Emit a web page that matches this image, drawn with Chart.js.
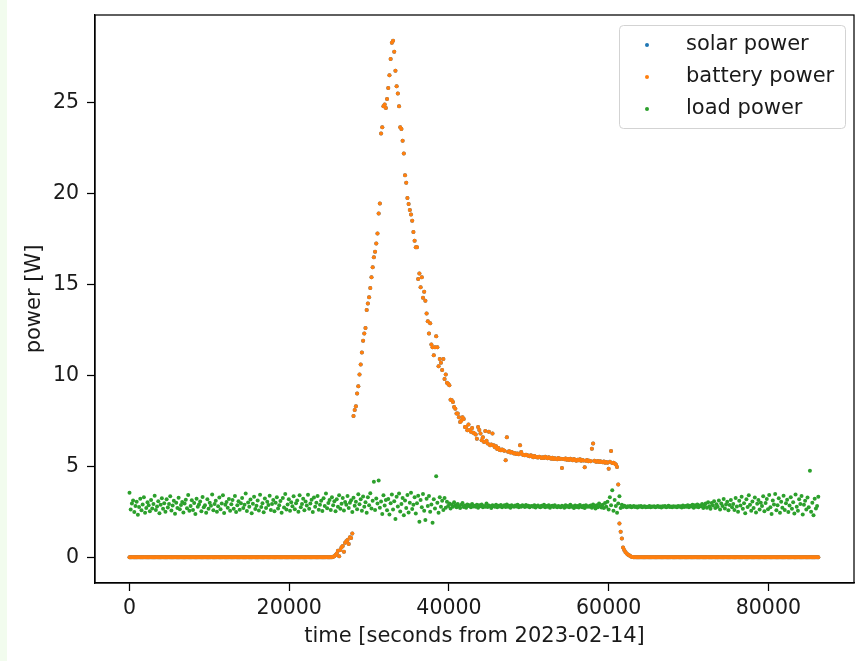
<!DOCTYPE html>
<html>
<head>
<meta charset="utf-8">
<script src="https://cdn.jsdelivr.net/npm/chart.js@4/dist/chart.umd.min.js"></script>
<style>
  html, body { margin: 0; padding: 0; }
  body {
    width: 856px; height: 661px; overflow: hidden;
    background: linear-gradient(to right, #f2fcee 0, #f2fcee 7px, #ffffff 7px);
  }
</style>
</head>
<body>
<canvas id="chart" width="856" height="661"></canvas>
<script>
// samples every 150 s, one row per hour
const timeStep = 150;

const batteryPower = [
  0,0,0,0,0,0,0,0,0,0,0,0,0,0,0,0,0,0,0,0,0,0,0,0,
  0,0,0,0,0,0,0,0,0,0,0,0,0,0,0,0,0,0,0,0,0,0,0,0,
  0,0,0,0,0,0,0,0,0,0,0,0,0,0,0,0,0,0,0,0,0,0,0,0,
  0,0,0,0,0,0,0,0,0,0,0,0,0,0,0,0,0,0,0,0,0,0,0,0,
  0,0,0,0,0,0,0,0,0,0,0,0,0,0,0,0,0,0,0,0,0,0,0,0,
  0,0,0,0,0,0,0,0,0,0,0,0,0,0,0,0,0,0,0,0,0,0,0,0,
  0,0,0,0,0,0,0,0,0,0,0,0,0,0,0,0,0,0,0,0,0,0,0,0,
  0,0,0.02,0.05,0.12,0.2,0.35,0.05,0.4,0.55,0.62,0.3,0.8,0.88,0.95,0.72,1.1,1.05,1.3,7.76,8.1,8.3,9.0,9.4,
  10.05,10.6,11.26,11.9,12.3,12.6,13.6,13.95,14.3,14.8,15.4,15.95,16.5,16.8,17.25,17.8,18.9,19.45,23.3,23.65,24.8,24.9,24.7,25.2,
  25.8,26.5,27.4,28.3,28.4,27.8,26.75,25.9,25.5,24.8,23.65,23.55,22.9,22.2,21.0,20.6,19.76,19.43,19.1,18.85,18.5,17.88,17.4,17.05,
  17.05,15.3,15.6,14.85,15.4,14.27,14.6,14.1,13.4,12.97,12.3,12.86,11.7,11.55,11.1,11.55,12.15,11.55,10.5,10.9,10.7,10.3,10.9,9.8,
  10.05,9.6,9.54,9.45,8.66,8.63,8.53,8.26,8.17,7.9,7.9,7.7,7.43,7.5,7.7,7.6,7.16,7.16,6.98,7.3,7.0,6.9,7.1,6.85,
  6.8,6.75,6.52,7.16,7.0,6.8,6.43,6.6,6.34,6.94,6.4,6.25,6.9,6.15,6.2,6.8,6.15,6.05,6.1,5.95,6.0,5.9,5.88,5.92,
  5.88,5.85,5.33,6.6,5.8,5.82,5.76,5.79,5.75,5.7,5.72,5.68,5.7,5.66,6.15,5.79,5.65,5.62,5.6,5.63,5.6,5.58,5.55,5.6,
  5.55,5.5,5.57,5.52,5.5,5.48,5.53,5.5,5.46,5.5,5.45,5.52,5.48,5.44,5.5,5.45,5.42,5.47,5.4,5.44,5.42,5.38,5.45,5.4,
  5.42,4.9,5.4,5.38,5.43,5.36,5.4,5.35,5.42,5.37,5.33,5.4,5.35,5.3,5.36,5.33,5.38,5.3,5.34,5.32,4.95,5.3,5.35,5.28,
  5.3,5.27,5.97,6.25,5.3,5.26,5.25,5.29,5.24,5.27,5.24,5.22,5.26,5.2,5.23,5.2,4.87,5.25,5.84,5.18,5.2,5.15,5.1,4.96,
  4.0,1.85,1.4,1.03,0.53,0.4,0.29,0.2,0.15,0.11,0.06,0.03,0.01,0,0,0,0,0,0,0,0,0,0,0,
  0,0,0,0,0,0,0,0,0,0,0,0,0,0,0,0,0,0,0,0,0,0,0,0,
  0,0,0,0,0,0,0,0,0,0,0,0,0,0,0,0,0,0,0,0,0,0,0,0,
  0,0,0,0,0,0,0,0,0,0,0,0,0,0,0,0,0,0,0,0,0,0,0,0,
  0,0,0,0,0,0,0,0,0,0,0,0,0,0,0,0,0,0,0,0,0,0,0,0,
  0,0,0,0,0,0,0,0,0,0,0,0,0,0,0,0,0,0,0,0,0,0,0,0,
  0,0,0,0,0,0,0,0,0,0,0,0,0,0,0,0,0,0,0,0,0,0,0,0
];

// solar sits exactly under the battery points, so none of it shows
const solarPower = batteryPower;

const loadPower = [
  3.55,2.62,2.95,3.12,2.48,2.81,3.05,2.34,2.76,3.21,2.58,2.9,3.3,2.45,2.7,3.02,2.86,2.52,3.15,2.68,2.93,3.38,2.6,2.79,
  3.08,2.41,2.88,3.24,2.66,2.97,2.5,3.18,2.73,2.92,3.35,2.57,2.84,3.1,2.39,2.99,2.71,3.27,2.63,2.87,3.04,2.46,2.95,3.16,
  2.69,3.42,2.55,2.82,3.13,2.6,2.98,2.37,3.22,2.77,2.9,3.06,2.53,3.31,2.74,2.86,2.44,3.19,2.67,3.0,2.83,3.45,2.58,2.92,
  3.1,2.5,2.8,3.28,2.64,2.95,3.4,2.43,2.88,3.03,2.72,3.2,2.56,2.91,3.14,2.66,3.36,2.49,2.85,3.07,2.61,2.97,3.25,2.7,
  2.89,3.5,2.54,3.01,2.78,3.17,2.42,2.94,3.33,2.65,2.83,3.12,2.57,3.44,2.76,2.96,2.47,3.23,2.7,3.05,2.87,3.38,2.6,2.93,
  3.15,2.52,2.99,3.3,2.68,2.86,3.09,2.45,3.26,2.73,3.47,2.62,2.9,3.18,2.55,3.02,2.8,3.35,2.64,2.97,3.12,2.5,3.4,2.75,
  2.92,3.22,2.58,3.06,2.84,3.43,2.66,2.95,3.16,2.49,3.28,2.77,3.0,3.37,2.61,2.89,3.11,2.54,3.24,2.82,3.5,2.69,2.98,3.14,
  2.6,3.3,2.85,3.07,2.52,3.19,2.78,3.41,2.67,2.94,3.25,2.57,3.03,2.88,3.36,2.71,2.99,3.13,2.48,3.27,2.83,3.05,2.63,3.46,
  2.91,3.18,2.55,3.34,2.77,3.02,2.44,3.29,2.86,3.52,2.68,3.1,4.15,2.6,3.23,2.95,4.22,2.72,3.06,2.38,3.4,2.84,3.15,2.58,
  3.2,2.35,2.97,3.45,2.62,3.08,2.1,3.33,2.79,3.5,2.51,2.93,3.26,2.3,3.12,2.7,3.42,2.46,3.0,3.55,2.65,2.88,3.3,2.4,
  2.96,3.38,1.95,3.14,2.75,3.47,2.56,2.05,3.22,2.82,3.36,2.5,2.9,1.9,3.18,2.68,4.45,2.99,2.45,3.3,2.78,3.1,2.6,3.25,
  2.72,3.05,2.82,2.95,2.68,2.9,2.78,3.02,2.85,2.74,2.93,2.8,2.7,2.88,2.98,2.76,2.84,2.72,2.9,2.81,2.86,2.75,2.92,2.79,
  2.83,2.77,2.88,2.72,2.85,2.8,2.9,2.74,2.82,2.78,2.95,2.76,2.84,2.8,2.7,2.86,2.81,2.78,2.89,2.75,2.83,2.79,2.87,2.74,
  2.8,2.85,2.76,2.9,2.78,2.83,2.72,2.86,2.8,2.77,2.84,2.79,2.88,2.74,2.82,2.78,2.85,2.81,2.76,2.87,2.79,2.83,2.75,2.8,
  2.82,2.77,2.86,2.73,2.8,2.84,2.78,2.75,2.83,2.79,2.88,2.74,2.81,2.77,2.85,2.72,2.8,2.83,2.76,2.86,2.79,2.74,2.82,2.78,
  2.75,2.83,2.79,2.72,2.86,2.78,2.81,2.74,2.88,2.77,2.8,2.7,2.84,2.76,2.82,2.73,2.87,2.79,2.75,2.83,2.71,2.86,2.78,2.8,
  2.77,2.84,2.72,2.9,2.79,2.68,2.86,2.75,2.95,2.8,2.73,2.88,2.7,2.98,2.78,3.05,2.62,3.3,2.85,3.68,2.55,3.15,2.82,2.45,
  2.95,3.35,2.7,2.88,2.76,2.83,2.79,2.74,2.8,2.77,2.82,2.75,2.78,2.81,2.76,2.79,2.73,2.8,2.77,2.82,2.75,2.78,2.8,2.74,
  2.78,2.76,2.81,2.74,2.79,2.77,2.8,2.75,2.78,2.82,2.76,2.79,2.73,2.8,2.77,2.81,2.75,2.78,2.83,2.76,2.79,2.74,2.8,2.77,
  2.79,2.75,2.82,2.77,2.8,2.73,2.84,2.76,2.81,2.78,2.86,2.74,2.83,2.79,2.88,2.72,2.85,2.78,2.9,2.75,2.84,2.8,2.92,2.7,
  2.86,2.95,2.72,3.02,2.8,2.66,2.98,2.84,3.08,2.7,2.91,2.78,3.12,2.62,2.95,2.82,3.2,2.68,2.9,3.05,2.58,2.87,3.15,2.74,
  2.93,2.6,3.25,2.79,2.5,3.1,2.84,3.33,2.66,2.97,2.42,3.18,2.76,3.4,2.88,2.55,3.06,2.7,3.28,2.46,2.94,3.15,2.62,3.0,
  2.81,3.35,2.52,2.98,3.2,2.64,3.42,2.75,2.38,3.12,2.9,3.48,2.58,2.86,3.24,2.45,3.05,2.72,3.38,2.6,2.96,3.16,2.48,2.84,
  3.3,2.67,3.02,2.4,3.45,2.78,2.55,3.18,2.92,3.36,2.35,2.88,3.1,2.62,3.28,2.74,4.75,2.5,3.0,2.3,3.22,2.68,2.82,3.32
];

const seriesLabels = ['solar power', 'battery power', 'load power'];
const seriesColors = ['#1f77b4', '#ff7f0e', '#2ca02c'];

const xTicks = [0, 20000, 40000, 60000, 80000];
const yTicks = [0, 5, 10, 15, 20, 25];

const textColor = '#1a1a1a';
const fontFamily = "'DejaVu Sans', sans-serif";

function toPoints(values) {
  return values.map((v, i) => ({ x: i * timeStep, y: v }));
}

// box round the plot, like matplotlib's spines
const frame = {
  id: 'frame',
  afterDatasetsDraw(chart) {
    const { ctx, chartArea: a } = chart;
    ctx.save();
    ctx.strokeStyle = '#000';
    ctx.lineWidth = 1.25;
    ctx.strokeRect(a.left, a.top, a.right - a.left, a.bottom - a.top);
    ctx.restore();
  }
};

// legend box in the upper right corner
const cornerLegend = {
  id: 'cornerLegend',
  afterDraw(chart) {
    const { ctx, chartArea: a } = chart;
    const w = 226, h = 103;
    const x0 = a.right - 9 - w, y0 = a.top + 10;
    ctx.save();
    ctx.beginPath();
    ctx.roundRect(x0 + 0.5, y0 + 0.5, w, h, 4);
    ctx.fillStyle = 'rgba(255,255,255,0.8)';
    ctx.fill();
    ctx.strokeStyle = '#d3d3d3';
    ctx.lineWidth = 1;
    ctx.stroke();
    ctx.font = '21px ' + fontFamily;
    ctx.textBaseline = 'middle';
    seriesLabels.forEach((label, i) => {
      const cy = y0 + 20 + i * 32;
      ctx.beginPath();
      ctx.arc(x0 + 28, cy, 2, 0, Math.PI * 2);
      ctx.fillStyle = seriesColors[i];
      ctx.fill();
      ctx.fillStyle = textColor;
      ctx.fillText(label, x0 + 67, cy);
    });
    ctx.restore();
  }
};

const axisCommon = {
  type: 'linear',
  grid: { drawOnChartArea: false, drawTicks: true, tickLength: 8, tickColor: '#000', tickWidth: 1.25 },
  border: { display: true, color: '#000', width: 1.25 },
  ticks: {
    color: textColor,
    font: { family: fontFamily, size: 20.5 },
    autoSkip: false,
    maxRotation: 0,
    callback: (v) => String(v)
  }
};

new Chart(document.getElementById('chart'), {
  type: 'scatter',
  data: {
    datasets: [
      { label: seriesLabels[0], data: toPoints(solarPower), backgroundColor: seriesColors[0], order: 3 },
      { label: seriesLabels[1], data: toPoints(batteryPower), backgroundColor: seriesColors[1], order: 2 },
      { label: seriesLabels[2], data: toPoints(loadPower), backgroundColor: seriesColors[2], order: 1 }
    ]
  },
  options: {
    responsive: false,
    animation: false,
    devicePixelRatio: 1,
    events: [],
    layout: { padding: { left: 0, top: 15, right: 2, bottom: 0 } },
    elements: { point: { radius: 2, borderWidth: 0, hoverRadius: 2 } },
    plugins: { legend: { display: false }, tooltip: { enabled: false } },
    scales: {
      x: {
        ...axisCommon,
        position: 'bottom',
        min: -4320,
        max: 90720,
        ticks: { ...axisCommon.ticks, padding: 5 },
        afterBuildTicks: (s) => { s.ticks = xTicks.map(v => ({ value: v })); },
        afterFit: (s) => { s.height = 78; s.paddingLeft = 0; s.paddingRight = 0; },
        title: {
          display: true,
          text: 'time [seconds from 2023-02-14]',
          color: textColor,
          font: { family: fontFamily, size: 21 },
          padding: { top: 0, bottom: 12 }
        }
      },
      y: {
        ...axisCommon,
        position: 'left',
        min: -1.42,
        max: 29.82,
        ticks: { ...axisCommon.ticks, padding: 8 },
        afterBuildTicks: (s) => { s.ticks = yTicks.map(v => ({ value: v })); },
        afterFit: (s) => { s.width = 95; s.paddingTop = 0; s.paddingBottom = 0; },
        title: {
          display: true,
          text: 'power [W]',
          color: textColor,
          font: { family: fontFamily, size: 21 },
          padding: { top: 22, bottom: 0 }
        }
      }
    }
  },
  plugins: [frame, cornerLegend]
});
</script>
</body>
</html>
